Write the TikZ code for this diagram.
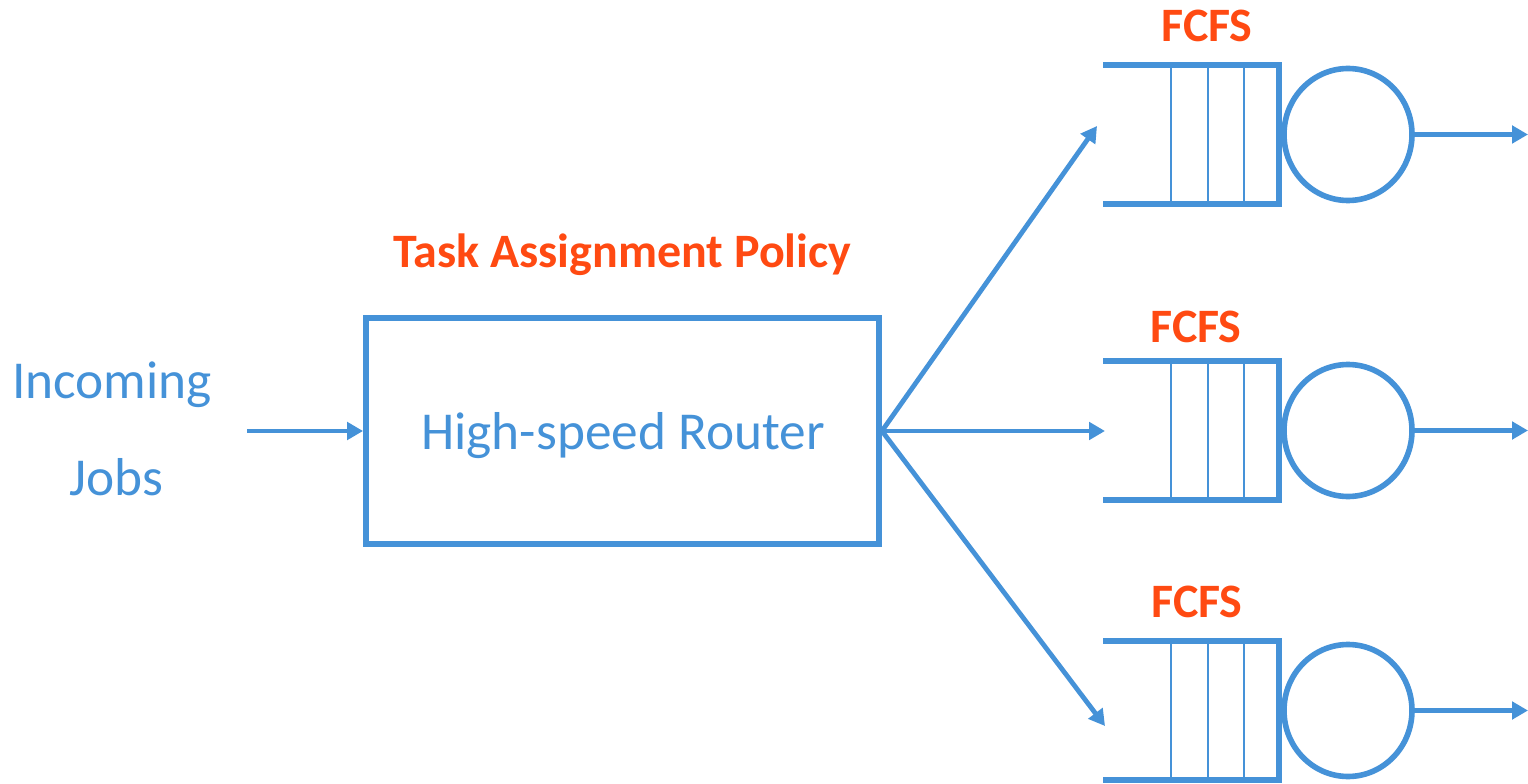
\documentclass[tikz,border=0pt]{standalone}
\usepackage{fontspec}
\setmainfont{Carlito}
\usetikzlibrary{arrows.meta,shapes.geometric}
\definecolor{qblue}{HTML}{4592D8}
\definecolor{qorange}{HTML}{FF4A12}
\begin{document}
\begin{tikzpicture}[x=0.75pt,y=-0.75pt,
  conn/.style={draw=qblue,line width=3.6pt,-{Triangle[length=12pt,width=13pt]}},
  qline/.style={draw=qblue,line width=4.2pt},
  qdiv/.style={draw=qblue,line width=1.5pt},
  server/.style={draw=qblue,line width=4.2pt,ellipse,minimum width=96pt,minimum height=99pt,inner sep=0pt},
  bluetext/.style={text=qblue,font=\fontsize{40}{48}\selectfont,inner sep=0pt,anchor=base},
  redtext/.style={text=qorange,font=\fontsize{36}{43}\selectfont\bfseries,inner sep=0pt,anchor=base},
  routerbox/.style={draw=qblue,line width=4.4pt,minimum width=384.75pt,minimum height=169.5pt,inner sep=0pt}]
\useasboundingbox (0,0) rectangle (1528,784);

% router
\node[routerbox] (router) at (622.5,431) {};
\node[bluetext] (routertext) at (623,449) {High-speed Router};
\node[redtext] (policy) at (622.5,268) {Task Assignment Policy};

% incoming
\node[bluetext] (incoming) at (112,398) {Incoming};
\node[bluetext] (jobs) at (116,495) {Jobs};
\coordinate (in1) at (247,431);
\draw[conn] (in1) -- (router.west);

% queues
\foreach \i/\c/\lx/\ly in {1/134.5/1207/42, 2/430.5/1196/343, 3/710.5/1197/617}{
  \draw[qline] (1103,\c-69.5) -- (1279,\c-69.5) -- (1279,\c+69.5) -- (1103,\c+69.5);
  \foreach \dx in {1171,1208,1244}{
    \draw[qdiv] (\dx,\c-69.5) -- (\dx,\c+69.5);
  }
  \node[server] (s\i) at (1348,\c) {};
  \coordinate (o\i) at (1528,\c);
  \draw[conn] (s\i.east) -- (o\i);
  \node[redtext] (fcfs\i) at (\lx,\ly) {FCFS};
}

% fan-out
\coordinate (q1in) at (1097,126);
\coordinate (q2in) at (1105,431);
\coordinate (q3in) at (1105,726);
\draw[conn] (router.east) -- (q1in);
\draw[conn] (router.east) -- (q2in);
\draw[conn] (router.east) -- (q3in);
\end{tikzpicture}
\end{document}
